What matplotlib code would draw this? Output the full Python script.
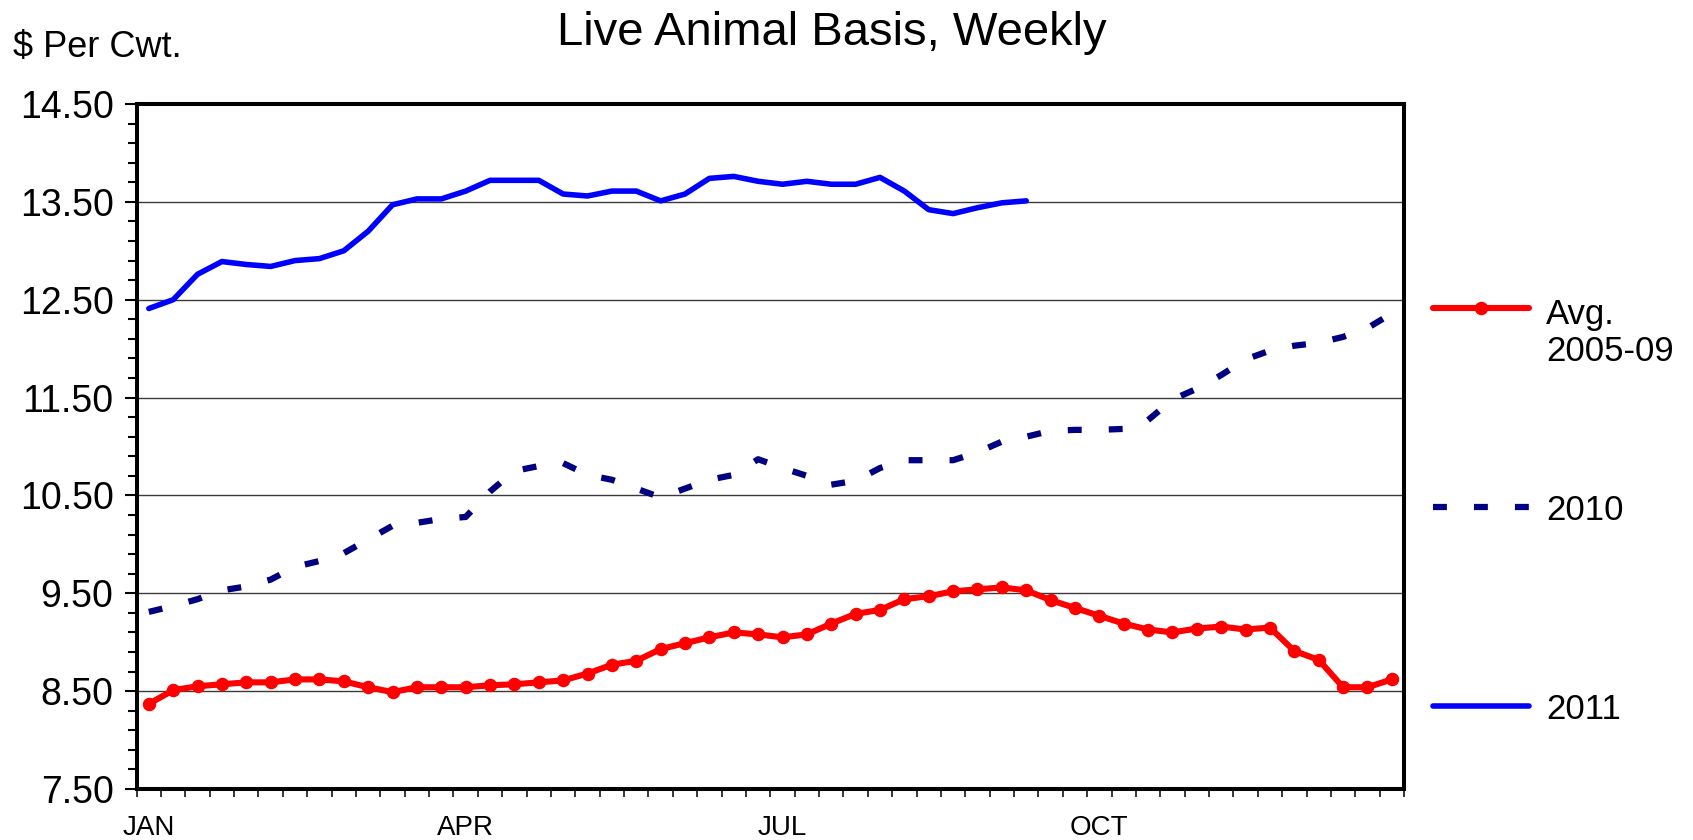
import numpy as np
import matplotlib
matplotlib.use("Agg")
import matplotlib.pyplot as plt

plt.rcParams["font.family"] = ["Liberation Sans", "DejaVu Sans"]
plt.rcParams["lines.scale_dashes"] = False

# weekly basis, $ per cwt
weeks = np.arange(52)
avg_0509 = [8.37, 8.51, 8.55, 8.57, 8.59, 8.59, 8.62, 8.62, 8.60, 8.54,
            8.49, 8.54, 8.54, 8.54, 8.56, 8.57, 8.59, 8.61, 8.68, 8.77,
            8.81, 8.93, 8.99, 9.05, 9.10, 9.08, 9.05, 9.08, 9.19, 9.29,
            9.33, 9.44, 9.47, 9.52, 9.54, 9.56, 9.53, 9.43, 9.35, 9.27,
            9.19, 9.13, 9.10, 9.14, 9.16, 9.13, 9.15, 8.91, 8.82, 8.54,
            8.54, 8.62]
y2010 = [9.31, 9.37, 9.44, 9.53, 9.57, 9.64, 9.77, 9.83, 9.91, 10.05,
         10.19, 10.22, 10.26, 10.28, 10.54, 10.75, 10.80, 10.83, 10.71, 10.66,
         10.57, 10.48, 10.57, 10.66, 10.71, 10.87, 10.78, 10.70, 10.61, 10.65,
         10.78, 10.86, 10.86, 10.86, 10.94, 11.05, 11.10, 11.16, 11.17, 11.17,
         11.18, 11.27, 11.48, 11.59, 11.73, 11.89, 11.98, 12.03, 12.06, 12.12,
         12.21, 12.36]
y2011 = [12.41, 12.50, 12.76, 12.89, 12.86, 12.84, 12.90, 12.92, 13.00, 13.20,
         13.47, 13.53, 13.53, 13.61, 13.72, 13.72, 13.72, 13.58, 13.56, 13.61,
         13.61, 13.51, 13.58, 13.74, 13.76, 13.71, 13.68, 13.71, 13.68, 13.68,
         13.75, 13.61, 13.42, 13.38, 13.44, 13.49, 13.51]
month_pos = [0, 13, 26, 39]
month_labels = ["JAN", "APR", "JUL", "OCT"]

style_avg = dict(color="#FF0000", lw=4.4, marker="o", markersize=8.7)
style_2010 = dict(color="#000080", lw=4.5, ls=(0, (10, 19.5)))
style_2011 = dict(color="#0000FF", lw=4.0)

fig = plt.figure(figsize=(16.93, 8.40), dpi=100)
ax = fig.add_axes([0.0807, 0.0607, 0.7486, 0.8155])

ax.plot(weeks, y2010, **style_2010, zorder=3)
ax.plot(weeks[:len(y2011)], y2011, **style_2011, solid_capstyle="round", zorder=3)
ax.plot(weeks, avg_0509, **style_avg, zorder=4)

ax.set_xlim(-0.5, 51.5)
ax.set_ylim(7.5, 14.5)

# y axis
ax.set_yticks(np.arange(7.5, 14.51, 1.0))
ax.set_yticklabels(["%.2f" % v for v in np.arange(7.5, 14.51, 1.0)], fontsize=27)
ax.set_yticks(np.arange(7.5, 14.51, 0.2), minor=True)
ax.tick_params(axis="y", which="major", direction="out", length=8.6, width=1.5, pad=8)
ax.tick_params(axis="y", which="minor", direction="out", length=6.5, width=1.5)
ax.grid(axis="y", which="major", color="#3a3a3a", lw=1.0)

# x axis: ticks between weeks, month labels on the weeks
ax.set_xticks(np.arange(-0.5, 51.6, 1.0))
ax.set_xticklabels([])
ax.set_xticks(month_pos, minor=True)
ax.set_xticklabels(month_labels, minor=True, fontsize=20)
ax.tick_params(axis="x", which="major", direction="out", length=5.8, width=1.1)
ax.tick_params(axis="x", which="minor", length=0, pad=19)

for s in ax.spines.values():
    s.set_linewidth(2.9)
    s.set_zorder(5)

fig.text(0.4915, 1 - 45 / 840, "Live Animal Basis, Weekly", fontsize=34,
         ha="center", va="baseline")
fig.text(0.0077, 1 - 57 / 840, "$ Per Cwt.", fontsize=26, ha="left", va="baseline")

# legend at right, evenly spaced entries
leg_items = [("Avg.\n2005-09", style_avg), ("2010", style_2010), ("2011", style_2011)]
leg_y = [0.7026, 0.4117, 0.1216]
line_step = 0.0584
for (lab, st), yy in zip(leg_items, leg_y):
    st2 = dict(st)
    st2.pop("marker", None)
    ax.plot([1.0229, 1.0986], [yy, yy], transform=ax.transAxes, clip_on=False,
            solid_capstyle="round", **st2)
    if "marker" in st:
        ax.plot([1.0607], [yy], transform=ax.transAxes, clip_on=False,
                color=st["color"], marker=st["marker"], markersize=st["markersize"])
    n_extra = lab.count("\n")
    ax.text(1.112, yy - 0.0197 - n_extra * line_step, lab, transform=ax.transAxes,
            fontsize=25, ha="left", va="baseline", linespacing=1.15)

fig.savefig("out.png", dpi=100)
